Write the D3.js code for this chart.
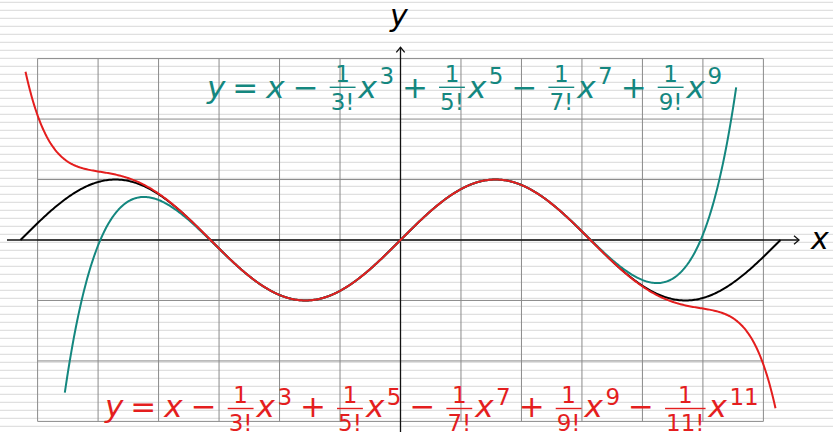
<!DOCTYPE html>
<html>
<head>
<meta charset="utf-8">
<script src="https://cdn.jsdelivr.net/npm/d3@7"></script>
<style>
  html, body { margin: 0; padding: 0; background: #fff; }
  svg { display: block; }
</style>
</head>
<body>
<svg id="chart" width="833" height="432"></svg>
<script>
// ---- data -------------------------------------------------------------
// grid ticks (one cell per unit)
const xTicks = [-6, -5, -4, -3, -2, -1, 0, 1, 2, 3, 4, 5, 6];
const yTicks = [-3, -2, -1, 0, 1, 2, 3];

// odd powers used by the two Taylor polynomials of sin x
const powers9  = [1, 3, 5, 7, 9];
const powers11 = [1, 3, 5, 7, 9, 11];

// x-intervals over which each curve is drawn
const sinSpan  = [-2 * Math.PI, 2 * Math.PI];
const poly9Span  = [-5.55, 5.55];
const poly11Span = [-6.2, 6.2];

const colors = { sin: "#000000", poly9: "#14877f", poly11: "#e41e1e" };

// ---- setup --------------------------------------------------------------
const W = 833, H = 432;
const svg = d3.select("#chart");
const FONT = "'DejaVu Sans', sans-serif";

const x = d3.scaleLinear().domain([-6, 6]).range([37.6, 763.4]);
const y = d3.scaleLinear().domain([-3, 3]).range([421.4, 58.6]);

svg.append("rect").attr("width", W).attr("height", H).attr("fill", "#fff");

// ruled background
svg.append("g").selectAll("line")
  .data(d3.range(2.3, H, 8))
  .join("line")
  .attr("x1", 0).attr("x2", W)
  .attr("y1", d => d).attr("y2", d => d)
  .attr("stroke", "#e0e0e0").attr("stroke-width", 1.3);

// unit grid
const grid = svg.append("g").attr("stroke", "#8a8a8a").attr("stroke-width", 1);
grid.selectAll(".v").data(xTicks).join("line").attr("class", "v")
  .attr("x1", d => x(d)).attr("x2", d => x(d))
  .attr("y1", y(3)).attr("y2", y(-3));
grid.selectAll(".h").data(yTicks).join("line").attr("class", "h")
  .attr("y1", d => y(d)).attr("y2", d => y(d))
  .attr("x1", x(-6)).attr("x2", x(6));

// axes with open arrow heads
const axes = svg.append("g").attr("stroke", "#111").attr("stroke-width", 1.3)
  .attr("fill", "none");
const x0 = x(0), y0 = y(0);
const xEnd = 799, yEnd = 47.3;
axes.append("line").attr("x1", 7).attr("x2", xEnd).attr("y1", y0).attr("y2", y0);
axes.append("line").attr("x1", x0).attr("x2", x0).attr("y1", H).attr("y2", yEnd);
axes.append("path").attr("d", `M${xEnd - 5},${y0 - 4.2}L${xEnd},${y0}L${xEnd - 5},${y0 + 4.2}`);
axes.append("path").attr("d", `M${x0 - 4.2},${yEnd + 5}L${x0},${yEnd}L${x0 + 4.2},${yEnd + 5}`);

svg.append("text").text("x").attr("x", 811).attr("y", 249)
  .attr("font-family", FONT).attr("font-style", "italic").attr("font-size", 30);
svg.append("text").text("y").attr("x", 390).attr("y", 26)
  .attr("font-family", FONT).attr("font-style", "italic").attr("font-size", 30);

// ---- curves -----------------------------------------------------------
const fact = n => (n <= 1 ? 1 : n * fact(n - 1));
const taylor = powers => t =>
  d3.sum(powers, (p, k) => ((k % 2 ? -1 : 1) / fact(p)) * Math.pow(t, p));

function sample(span, f, n = 600) {
  return d3.range(n + 1).map(i => {
    const t = span[0] + (span[1] - span[0]) * i / n;
    return [t, f(t)];
  });
}
const line = d3.line().x(d => x(d[0])).y(d => y(d[1]));

const curves = [
  { pts: sample(sinSpan, Math.sin), color: colors.sin },
  { pts: sample(poly9Span, taylor(powers9)), color: colors.poly9 },
  { pts: sample(poly11Span, taylor(powers11)), color: colors.poly11 }
];
svg.append("g").selectAll("path").data(curves).join("path")
  .attr("d", d => line(d.pts))
  .attr("fill", "none").attr("stroke", d => d.color)
  .attr("stroke-width", 2).attr("stroke-linejoin", "round");

// ---- formula labels ----------------------------------------------------
function formulaTokens(powers) {
  const toks = [{ k: "id", t: "y" }, { k: "rel", t: "=" }];
  powers.forEach((p, i) => {
    if (i > 0) {
      toks.push({ k: "op", t: i % 2 ? "\u2212" : "+" });
      toks.push({ k: "frac", n: "1", d: p + "!" });
    }
    toks.push({ k: "id", t: "x" });
    if (p > 1) toks.push({ k: "sup", t: String(p) });
  });
  return toks;
}

// lay out a formula left to right; v holds vertical offsets from the baseline
function drawFormula(tokens, startX, base, color, v) {
  const g = svg.append("g").attr("fill", color).attr("font-family", FONT);
  const big = 31, small = 23;
  let cx = startX;
  const put = (txt, px, py, size, italic) => {
    const el = g.append("text").text(txt).attr("x", px).attr("y", py)
      .attr("font-size", size).attr("font-style", italic ? "italic" : "normal");
    return el.node().getComputedTextLength();
  };
  const measure = (txt, size) => {
    const t = g.append("text").text(txt).attr("font-size", size);
    const w = t.node().getComputedTextLength();
    t.remove();
    return w;
  };
  tokens.forEach(tok => {
    if (tok.k === "id") {
      cx += put(tok.t, cx, base, big, true);
    } else if (tok.k === "rel") {
      cx += 7;
      cx += put(tok.t, cx, base, big, false);
      cx += 8;
    } else if (tok.k === "op") {
      cx += 8;
      cx += put(tok.t, cx, base, big, false);
      cx += 11;
    } else if (tok.k === "frac") {
      const wn = measure(tok.n, small), wd = measure(tok.d, small);
      const w = Math.max(wn, wd) + 2;
      put(tok.n, cx + (w - wn) / 2, base + v.num, small, false);
      put(tok.d, cx + (w - wd) / 2, base + v.den, small, false);
      g.append("rect").attr("x", cx).attr("y", base + v.bar - 0.7)
        .attr("width", w).attr("height", 1.4);
      cx += w + 3;
    } else if (tok.k === "sup") {
      cx += 2.5;
      cx += put(tok.t, cx, base + v.sup, small, false);
    }
  });
  return cx;
}

drawFormula(formulaTokens(powers9), 207, 98.3, colors.poly9,
  { sup: -14, num: -16, bar: -11, den: 12 });
drawFormula(formulaTokens(powers11), 105, 417, colors.poly11,
  { sup: -12, num: -14, bar: -8.5, den: 14 });
</script>
</body>
</html>
